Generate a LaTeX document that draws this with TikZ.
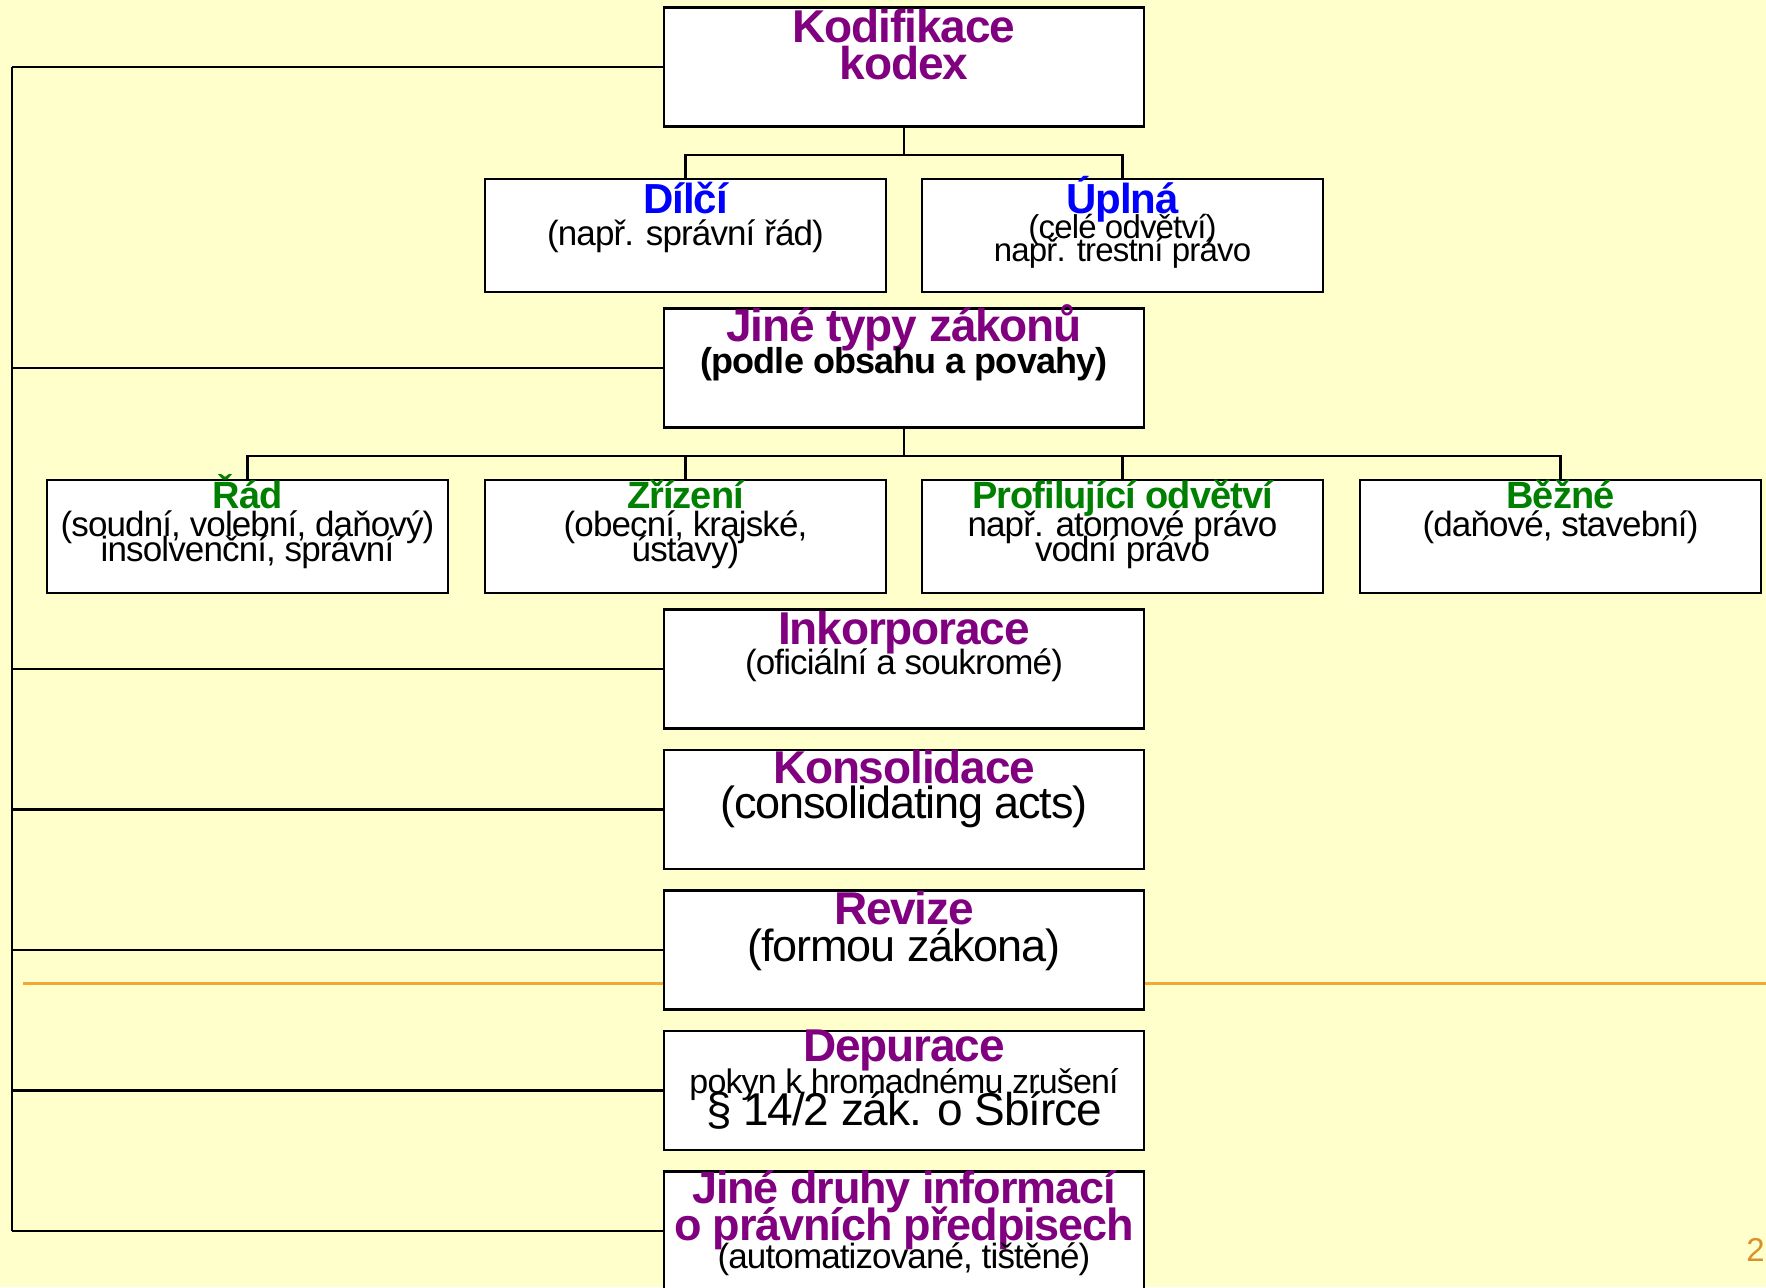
\documentclass[tikz,border=0pt]{standalone}
\usepackage{fontspec}
\setmainfont{Liberation Sans}[LetterSpace=-2.5]
\usetikzlibrary{positioning}

\definecolor{tpurple}{RGB}{128,0,128}
\definecolor{tblue}{RGB}{0,0,255}
\definecolor{tgreen}{RGB}{0,128,0}
\definecolor{bgyellow}{RGB}{255,255,204}
\definecolor{rulecol}{RGB}{240,168,56}
\definecolor{pagecol}{RGB}{214,145,45}

% bold coloured head line: size, colour, text
\newcommand{\head}[3]{{\bfseries\fontsize{#1}{#1}\selectfont\color{#2}#3}}
\setlength{\lineskiplimit}{-100pt}

\begin{document}
\begin{tikzpicture}[%
            x=0.5pt, y=-0.5pt,
            node distance=70.25pt,
            on grid,
            box/.style={draw, fill=white, line width=1.1pt, inner sep=0pt,
                        minimum width=240pt, minimum height=59.5pt},
            sbox/.style={box, minimum width=200.5pt, minimum height=56.5pt},
            lbl/.style={anchor=base, align=center, inner sep=0pt},
            link/.style={line width=1.1pt}
            ]
            \fill[bgyellow] (0,0) rectangle (1766,1287);
            \useasboundingbox (0,0) rectangle (1766,1287);
            \draw[rulecol, line width=1.5pt] (23,983) -- (1766,983);

            % boxes
            \node[box] (kod) at (904,67) {};
            \node[sbox] (dil) at (685.5,235.5) {};
            \node[sbox, right=218.5pt of dil] (upl) {};
            \node[box] (typ) at (904,368) {};
            \node[sbox] (rad) at (247.5,536.5) {};
            \node[sbox, right=219pt of rad] (zri) {};
            \node[sbox, right=218.5pt of zri] (pro) {};
            \node[sbox, right=219pt of pro] (bez) {};
            \node[box] (ink) at (904,669) {};
            \node[box, below=of ink] (kon) {};
            \node[box, below=of kon] (rev) {};
            \node[box, below=of rev] (dep) {};
            \node[box, below=of dep] (dru) {};

            % texts (placed by the baseline of their last line)
            \node[lbl, text=tpurple, font=\bfseries\fontsize{23}{18.5}\selectfont]
                (kodT) at ([yshift=-36.5pt]kod.north) {Kodifikace\\kodex};
            \node[lbl, font=\fontsize{17.5}{16}\selectfont]
                (dilT) at ([yshift=-34pt]dil.north) {\head{21}{tblue}{Dílčí}\\(např. správní řád)};
            \node[lbl, font=\fontsize{16.5}{11.5}\selectfont]
                (uplT) at ([yshift=-42pt]upl.north) {\head{21}{tblue}{Úplná}\\[1pt](celé odvětví)\\např. trestní právo};
            \node[lbl, font=\bfseries\fontsize{18}{16}\selectfont]
                (typT) at ([yshift=-33pt]typ.north) {\head{23}{tpurple}{Jiné typy zákonů}\\(podle obsahu a povahy)};
            \node[lbl, font=\fontsize{17.5}{12.5}\selectfont]
                (radT) at ([yshift=-41.5pt]rad.north) {\head{19}{tgreen}{Řád}\\[1.5pt](soudní, volební, daňový)\\insolvenční, správní};
            \node[lbl, font=\fontsize{17.5}{12.5}\selectfont]
                (zriT) at ([yshift=-41.5pt]zri.north) {\head{19}{tgreen}{Zřízení}\\[1.5pt](obecní, krajské,\\ústavy)};
            \node[lbl, font=\fontsize{17.5}{12.5}\selectfont]
                (proT) at ([yshift=-41.5pt]pro.north) {\head{19}{tgreen}{Profilující odvětví}\\[1.5pt]např. atomové právo\\vodní právo};
            \node[lbl, font=\fontsize{17.5}{14}\selectfont]
                (bezT) at ([yshift=-29pt]bez.north) {\head{19}{tgreen}{Běžné}\\(daňové, stavební)};
            \node[lbl, font=\fontsize{17.5}{15}\selectfont]
                (inkT) at ([yshift=-33pt]ink.north) {\head{23}{tpurple}{Inkorporace}\\(oficiální a soukromé)};
            \node[lbl, font=\fontsize{22.5}{17.5}\selectfont]
                (konT) at ([yshift=-35pt]kon.north) {\head{23}{tpurple}{Konsolidace}\\(consolidating acts)};
            \node[lbl, font=\fontsize{22.5}{18.5}\selectfont]
                (revT) at ([yshift=-36pt]rev.north) {\head{23}{tpurple}{Revize}\\(formou zákona)};
            \node[lbl, font=\fontsize{17}{16}\selectfont]
                (depT) at ([yshift=-48pt]dep.north) {\head{23}{tpurple}{Depurace}\\pokyn k hromadnému zrušení\\{\fontsize{23}{16}\selectfont § 14/2 zák. o Sbírce}};
            \node[lbl, font=\fontsize{17.5}{14}\selectfont]
                (druT) at ([yshift=-49pt]dru.north) {\head{22.5}{tpurple}{Jiné druhy informací}\\[4.5pt]\head{22.5}{tpurple}{o právních předpisech}\\(automatizované, tištěné)};

            \node[text=pagecol, font=\fontsize{16.5}{16.5}\selectfont] (pg) at (1755.5,1250) {2};

            % connectors
            \coordinate (busT) at (12,67);
            \coordinate (kodJ) at (904,155);
            \coordinate (typJ) at (904,456);
            \draw[link] (busT) -- (busT |- dru.west);
            \foreach \b in {kod,typ,ink,kon,rev,dep,dru}
                \draw[link] (\b.west) -- (\b.west -| busT);
            \draw[link] (kod.south) -- (kodJ);
            \draw[link] (dil.north) |- (kodJ) -| (upl.north);
            \draw[link] (typ.south) -- (typJ);
            \draw[link] (rad.north) |- (typJ) -| (bez.north);
            \foreach \b in {zri,pro}
                \draw[link] (\b.north) -- (\b.north |- typJ);

        \end{tikzpicture}
\end{document}
